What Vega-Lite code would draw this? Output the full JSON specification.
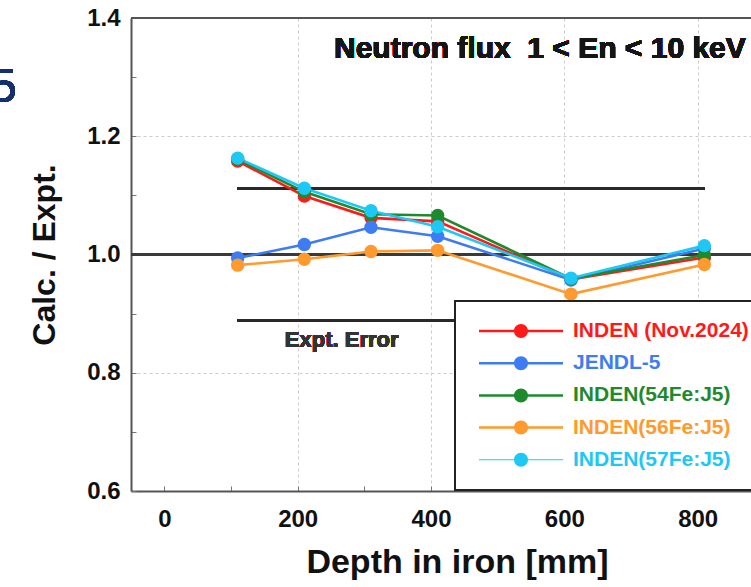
{
  "$schema": "https://vega.github.io/schema/vega-lite/v6.json",
  "width": 620,
  "height": 473,
  "autosize": "none",
  "padding": {"left": 131, "top": 18, "right": 0, "bottom": 96},
  "background": "white",
  "config": {"view": {"stroke": null}, "font": "Liberation Sans"},
  "data": {
    "values": [
      {"series": "INDEN (Nov.2024)", "depth": 110, "ratio": 1.158},
      {"series": "INDEN (Nov.2024)", "depth": 210, "ratio": 1.099},
      {"series": "INDEN (Nov.2024)", "depth": 310, "ratio": 1.062},
      {"series": "INDEN (Nov.2024)", "depth": 410, "ratio": 1.056},
      {"series": "INDEN (Nov.2024)", "depth": 610, "ratio": 0.958},
      {"series": "INDEN (Nov.2024)", "depth": 810, "ratio": 0.995},
      {"series": "JENDL-5", "depth": 110, "ratio": 0.994},
      {"series": "JENDL-5", "depth": 210, "ratio": 1.017},
      {"series": "JENDL-5", "depth": 310, "ratio": 1.046},
      {"series": "JENDL-5", "depth": 410, "ratio": 1.031},
      {"series": "JENDL-5", "depth": 610, "ratio": 0.957},
      {"series": "JENDL-5", "depth": 810, "ratio": 1.010},
      {"series": "INDEN(54Fe:J5)", "depth": 110, "ratio": 1.161},
      {"series": "INDEN(54Fe:J5)", "depth": 210, "ratio": 1.106},
      {"series": "INDEN(54Fe:J5)", "depth": 310, "ratio": 1.068},
      {"series": "INDEN(54Fe:J5)", "depth": 410, "ratio": 1.066},
      {"series": "INDEN(54Fe:J5)", "depth": 610, "ratio": 0.959},
      {"series": "INDEN(54Fe:J5)", "depth": 810, "ratio": 0.999},
      {"series": "INDEN(56Fe:J5)", "depth": 110, "ratio": 0.982},
      {"series": "INDEN(56Fe:J5)", "depth": 210, "ratio": 0.992},
      {"series": "INDEN(56Fe:J5)", "depth": 310, "ratio": 1.005},
      {"series": "INDEN(56Fe:J5)", "depth": 410, "ratio": 1.007},
      {"series": "INDEN(56Fe:J5)", "depth": 610, "ratio": 0.933},
      {"series": "INDEN(56Fe:J5)", "depth": 810, "ratio": 0.983},
      {"series": "INDEN(57Fe:J5)", "depth": 110, "ratio": 1.163},
      {"series": "INDEN(57Fe:J5)", "depth": 210, "ratio": 1.112},
      {"series": "INDEN(57Fe:J5)", "depth": 310, "ratio": 1.074},
      {"series": "INDEN(57Fe:J5)", "depth": 410, "ratio": 1.047},
      {"series": "INDEN(57Fe:J5)", "depth": 610, "ratio": 0.960},
      {"series": "INDEN(57Fe:J5)", "depth": 810, "ratio": 1.015}
    ]
  },
  "layer": [
    {
      "mark": {"type": "rule", "color": "#3a3a3a", "strokeWidth": 2.5},
      "encoding": {"y": {"datum": 1.0}}
    },
    {
      "mark": {"type": "rule", "color": "#555555", "strokeWidth": 2},
      "encoding": {"y": {"datum": 1.4}}
    },
    {
      "mark": {"type": "rule", "color": "#2a2a2a", "strokeWidth": 2},
      "encoding": {"x": {"datum": 110}, "x2": {"datum": 810}, "y": {"datum": 1.111}}
    },
    {
      "mark": {"type": "rule", "color": "#2a2a2a", "strokeWidth": 2},
      "encoding": {"x": {"datum": 110}, "x2": {"datum": 810}, "y": {"datum": 0.889}}
    },
    {
      "mark": {"type": "text", "text": "Expt. Error", "font": "Liberation Sans", "fontWeight": "bold", "fontSize": 22, "color": "#333333", "align": "center", "baseline": "middle"},
      "encoding": {"x": {"datum": 266}, "y": {"datum": 0.8554}}
    },
    {
      "mark": {"type": "text", "text": "Neutron flux\u00a0 1 < En < 10 keV", "font": "Liberation Sans", "fontWeight": "bold", "fontSize": 30, "color": "#151515", "align": "left", "baseline": "middle"},
      "encoding": {"x": {"datum": 254.5}, "y": {"datum": 1.3476}}
    },
    {
      "mark": {"type": "text", "text": "5", "font": "Liberation Sans", "fontSize": 49, "color": "#14306e", "align": "right", "baseline": "middle"},
      "encoding": {"x": {"datum": -221}, "y": {"datum": 1.283}}
    },
    {
      "mark": {"type": "line", "strokeWidth": 2.6},
      "encoding": {
        "x": {
          "field": "depth", "type": "quantitative",
          "scale": {"domain": [-50, 880], "nice": false, "zero": false},
          "axis": {
            "values": [0, 100, 200, 300, 400, 500, 600, 700, 800],
            "labelExpr": "datum.value % 200 === 0 ? datum.label : ''",
            "title": "Depth in iron [mm]",
            "titleFont": "Liberation Sans", "titleFontSize": 34, "titleFontWeight": "bold", "titleColor": "#111111", "titlePadding": 14,
            "titleX": 326, "titleAlign": "center",
            "labelFont": "Liberation Sans", "labelFontSize": 24, "labelFontWeight": "bold", "labelColor": "#111111", "labelPadding": 21,
            "domainColor": "#555555", "domainWidth": 2,
            "tickSize": -5, "tickColor": "#777777", "tickWidth": 1,
            "grid": true, "gridColor": "#cccccc", "gridDash": [3, 3], "gridWidth": 1,
            "gridOpacity": {"condition": {"test": "datum.value % 200 === 0 && datum.value > 0", "value": 1}, "value": 0}
          }
        },
        "y": {
          "field": "ratio", "type": "quantitative",
          "scale": {"domain": [0.6, 1.4], "nice": false, "zero": false},
          "axis": {
            "values": [0.6, 0.7, 0.8, 0.9, 1.0, 1.1, 1.2, 1.3, 1.4],
            "labelExpr": "round(datum.value * 10) % 2 === 0 ? format(datum.value, '.1f') : ''",
            "title": "Calc. / Expt.",
            "titleFont": "Liberation Sans", "titleFontSize": 32, "titleFontWeight": "bold", "titleColor": "#111111", "titlePadding": 25,
            "labelFont": "Liberation Sans", "labelFontSize": 24, "labelFontWeight": "bold", "labelColor": "#111111", "labelPadding": 16,
            "domainColor": "#555555", "domainWidth": 2,
            "tickSize": -5, "tickColor": "#777777", "tickWidth": 1,
            "grid": true, "gridColor": "#cccccc", "gridDash": [3, 3], "gridWidth": 1,
            "gridOpacity": {"condition": {"test": "round(datum.value * 10) % 2 === 0 && datum.value > 0.65 && datum.value < 1.35", "value": 1}, "value": 0}
          }
        },
        "color": {
          "field": "series", "type": "nominal",
          "scale": {
            "domain": ["INDEN (Nov.2024)", "JENDL-5", "INDEN(54Fe:J5)", "INDEN(56Fe:J5)", "INDEN(57Fe:J5)"],
            "range": ["#ff1a1a", "#3d7cf2", "#1e8a2e", "#ff9a2e", "#1ec8f5"]
          },
          "legend": {
            "orient": "none", "legendX": 324, "legendY": 283,
            "title": null,
            "fillColor": "white", "strokeColor": "#222222",
            "padding": 15,
            "clipHeight": 30, "rowPadding": 2.2,
            "symbolType": "M-1,-0.03H1V0.03H-1Z M-0.1667,0 A0.1667,0.1667 0 1,1 0.1667,0 A0.1667,0.1667 0 1,1 -0.1667,0 Z",
            "symbolSize": 7056, "symbolStrokeWidth": 0, "symbolOpacity": 1, "symbolOffset": 9,
            "labelFont": "Liberation Sans", "labelFontSize": 21, "labelFontWeight": "bold", "labelOffset": 10, "labelLimit": 400,
            "encode": {
              "legend": {"update": {"strokeWidth": {"value": 2}}},
              "labels": {"update": {"fill": {"scale": "color", "field": "value"}}},
              "symbols": {"update": {
                "fill": {"scale": "color", "field": "value"},
                "strokeWidth": {"value": 0},
                "shape": {"signal": "datum.value === 'INDEN(57Fe:J5)' ? 'M-1,-0.012H1V0.012H-1Z M-0.1667,0 A0.1667,0.1667 0 1,1 0.1667,0 A0.1667,0.1667 0 1,1 -0.1667,0 Z' : 'M-1,-0.03H1V0.03H-1Z M-0.1667,0 A0.1667,0.1667 0 1,1 0.1667,0 A0.1667,0.1667 0 1,1 -0.1667,0 Z'"}
              }}
            }
          }
        },
        "order": {"field": "depth"}
      }
    },
    {
      "mark": {"type": "point", "filled": true, "opacity": 1, "size": 180},
      "encoding": {
        "x": {"field": "depth", "type": "quantitative"},
        "y": {"field": "ratio", "type": "quantitative"},
        "color": {"field": "series", "type": "nominal"}
      }
    }
  ]
}
